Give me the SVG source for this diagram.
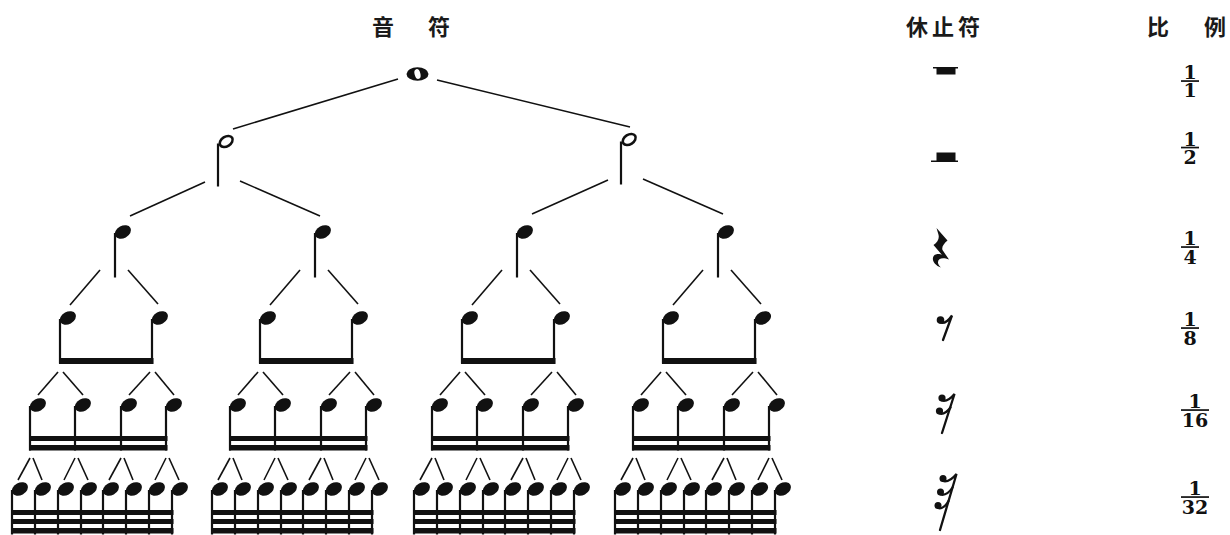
<svg xmlns="http://www.w3.org/2000/svg" width="1230" height="535" viewBox="0 0 1230 535">
<style>
.cjk{font-family:"Noto Sans CJK SC","Noto Sans",sans-serif;font-size:22px;font-weight:bold;fill:#1a1a1a}
.fr{font-family:"DejaVu Serif","Liberation Serif",serif;font-weight:bold;font-size:19px;fill:#111;text-anchor:middle}
.cn line{stroke:#111;stroke-width:1.6;stroke-linecap:butt}
.ink{fill:#111}
.rs{fill:none;stroke:#111;stroke-width:2.3;stroke-linecap:round}
</style>
<defs>
<g id="n" class="ink"><ellipse cx="0" cy="0" rx="8.6" ry="6.1" transform="translate(7.9,0) rotate(-28)"/><rect x="-1.1" y="1" width="2.2" height="44.5"/></g>
<g id="hn"><ellipse cx="0" cy="0" rx="7" ry="4.8" transform="translate(8.2,-0.5) rotate(-32)" fill="none" stroke="#111" stroke-width="2.6"/><rect x="-1.1" y="1.5" width="2.2" height="43" class="ink"/></g>
</defs>
<rect width="1230" height="535" fill="#fff"/>

<g id="headers">
<text class="cjk" text-anchor="middle" y="35"><tspan x="383">音</tspan><tspan x="439">符</tspan></text>
<text class="cjk" x="906" y="35" letter-spacing="4">休止符</text>
<text class="cjk" text-anchor="middle" y="35"><tspan x="1158">比</tspan><tspan x="1215">例</tspan></text>
</g>

<g id="connectors" class="cn">
<line x1="398" y1="79" x2="233" y2="129"/>
<line x1="437" y1="80" x2="630" y2="127"/>
<line x1="205" y1="182" x2="130" y2="216"/>
<line x1="240" y1="181" x2="320" y2="216"/>
<line x1="608" y1="180" x2="532" y2="214"/>
<line x1="643" y1="179" x2="723" y2="214"/>
<line x1="100" y1="270" x2="70" y2="305"/>
<line x1="128" y1="270" x2="158" y2="304"/>
<line x1="300" y1="270" x2="270" y2="305"/>
<line x1="328" y1="270" x2="358" y2="304"/>
<line x1="502" y1="270" x2="472" y2="305"/>
<line x1="530" y1="270" x2="560" y2="304"/>
<line x1="703" y1="270" x2="673" y2="305"/>
<line x1="731" y1="270" x2="761" y2="304"/>
<line x1="58" y1="372" x2="38" y2="395"/>
<line x1="63" y1="372" x2="83" y2="395"/>
<line x1="150" y1="372" x2="129" y2="395"/>
<line x1="155" y1="372" x2="174" y2="395"/>
<line x1="258" y1="372" x2="238" y2="395"/>
<line x1="263" y1="372" x2="283" y2="395"/>
<line x1="350" y1="372" x2="329" y2="395"/>
<line x1="355" y1="372" x2="374" y2="395"/>
<line x1="460" y1="372" x2="440" y2="395"/>
<line x1="465" y1="372" x2="485" y2="395"/>
<line x1="552" y1="372" x2="531" y2="395"/>
<line x1="557" y1="372" x2="576" y2="395"/>
<line x1="661" y1="372" x2="641" y2="395"/>
<line x1="666" y1="372" x2="686" y2="395"/>
<line x1="753" y1="372" x2="732" y2="395"/>
<line x1="758" y1="372" x2="777" y2="395"/>
<line x1="30" y1="458" x2="18" y2="480"/>
<line x1="33" y1="458" x2="42" y2="480"/>
<line x1="75" y1="458" x2="64" y2="480"/>
<line x1="78" y1="458" x2="88" y2="480"/>
<line x1="121" y1="458" x2="109" y2="480"/>
<line x1="124" y1="458" x2="133" y2="480"/>
<line x1="166" y1="458" x2="155" y2="480"/>
<line x1="169" y1="458" x2="179" y2="480"/>
<line x1="230" y1="458" x2="218" y2="480"/>
<line x1="233" y1="458" x2="242" y2="480"/>
<line x1="275" y1="458" x2="264" y2="480"/>
<line x1="278" y1="458" x2="288" y2="480"/>
<line x1="321" y1="458" x2="309" y2="480"/>
<line x1="324" y1="458" x2="333" y2="480"/>
<line x1="366" y1="458" x2="355" y2="480"/>
<line x1="369" y1="458" x2="379" y2="480"/>
<line x1="432" y1="458" x2="420" y2="480"/>
<line x1="435" y1="458" x2="444" y2="480"/>
<line x1="477" y1="458" x2="466" y2="480"/>
<line x1="480" y1="458" x2="490" y2="480"/>
<line x1="523" y1="458" x2="511" y2="480"/>
<line x1="526" y1="458" x2="535" y2="480"/>
<line x1="568" y1="458" x2="557" y2="480"/>
<line x1="571" y1="458" x2="581" y2="480"/>
<line x1="633" y1="458" x2="621" y2="480"/>
<line x1="636" y1="458" x2="645" y2="480"/>
<line x1="678" y1="458" x2="667" y2="480"/>
<line x1="681" y1="458" x2="691" y2="480"/>
<line x1="724" y1="458" x2="712" y2="480"/>
<line x1="727" y1="458" x2="736" y2="480"/>
<line x1="769" y1="458" x2="758" y2="480"/>
<line x1="772" y1="458" x2="782" y2="480"/>
</g>

<g id="whole"><ellipse cx="417.5" cy="74" rx="11" ry="6.8" class="ink"/><ellipse cx="417.5" cy="74" rx="2.9" ry="5" transform="rotate(-15 417.5 74)" fill="#fff"/></g>

<g id="half1"><use href="#hn" x="218" y="142"/></g>
<g id="half2"><use href="#hn" x="621" y="140"/></g>

<g id="q1"><use href="#n" x="115" y="232"/></g>
<g id="q2"><use href="#n" x="315" y="232"/></g>
<g id="q3"><use href="#n" x="517" y="232"/></g>
<g id="q4"><use href="#n" x="718" y="232"/></g>

<g id="e1"><use href="#n" x="60" y="318"/></g>
<g id="e2"><use href="#n" x="152" y="318"/></g>
<g id="e3"><use href="#n" x="260" y="318"/></g>
<g id="e4"><use href="#n" x="352" y="318"/></g>
<g id="e5"><use href="#n" x="462" y="318"/></g>
<g id="e6"><use href="#n" x="554" y="318"/></g>
<g id="e7"><use href="#n" x="663" y="318"/></g>
<g id="e8"><use href="#n" x="755" y="318"/></g>
<g id="beams8" class="ink">
<rect x="59" y="358" width="94.5" height="6"/>
<rect x="259" y="358" width="94.5" height="6"/>
<rect x="461" y="358" width="94.5" height="6"/>
<rect x="662" y="358" width="94.5" height="6"/>
</g>

<g id="s1"><use href="#n" x="30" y="405"/></g>
<g id="s2"><use href="#n" x="75" y="405"/></g>
<g id="s3"><use href="#n" x="121" y="405"/></g>
<g id="s4"><use href="#n" x="166" y="405"/></g>
<g id="s5"><use href="#n" x="230" y="405"/></g>
<g id="s6"><use href="#n" x="275" y="405"/></g>
<g id="s7"><use href="#n" x="321" y="405"/></g>
<g id="s8"><use href="#n" x="366" y="405"/></g>
<g id="s9"><use href="#n" x="432" y="405"/></g>
<g id="s10"><use href="#n" x="477" y="405"/></g>
<g id="s11"><use href="#n" x="523" y="405"/></g>
<g id="s12"><use href="#n" x="568" y="405"/></g>
<g id="s13"><use href="#n" x="633" y="405"/></g>
<g id="s14"><use href="#n" x="678" y="405"/></g>
<g id="s15"><use href="#n" x="724" y="405"/></g>
<g id="s16"><use href="#n" x="769" y="405"/></g>
<g id="beams16" class="ink">
<rect x="29" y="436" width="138.5" height="5"/><rect x="29" y="445" width="138.5" height="5.5"/>
<rect x="229" y="436" width="138.5" height="5"/><rect x="229" y="445" width="138.5" height="5.5"/>
<rect x="431" y="436" width="138.5" height="5"/><rect x="431" y="445" width="138.5" height="5.5"/>
<rect x="632" y="436" width="138.5" height="5"/><rect x="632" y="445" width="138.5" height="5.5"/>
</g>

<g id="t1"><use href="#n" x="12" y="489"/></g>
<g id="t2"><use href="#n" x="35" y="489"/></g>
<g id="t3"><use href="#n" x="58" y="489"/></g>
<g id="t4"><use href="#n" x="81" y="489"/></g>
<g id="t5"><use href="#n" x="103" y="489"/></g>
<g id="t6"><use href="#n" x="126" y="489"/></g>
<g id="t7"><use href="#n" x="149" y="489"/></g>
<g id="t8"><use href="#n" x="172" y="489"/></g>
<g id="t9"><use href="#n" x="212" y="489"/></g>
<g id="t10"><use href="#n" x="235" y="489"/></g>
<g id="t11"><use href="#n" x="258" y="489"/></g>
<g id="t12"><use href="#n" x="281" y="489"/></g>
<g id="t13"><use href="#n" x="303" y="489"/></g>
<g id="t14"><use href="#n" x="326" y="489"/></g>
<g id="t15"><use href="#n" x="349" y="489"/></g>
<g id="t16"><use href="#n" x="372" y="489"/></g>
<g id="t17"><use href="#n" x="414" y="489"/></g>
<g id="t18"><use href="#n" x="437" y="489"/></g>
<g id="t19"><use href="#n" x="460" y="489"/></g>
<g id="t20"><use href="#n" x="483" y="489"/></g>
<g id="t21"><use href="#n" x="505" y="489"/></g>
<g id="t22"><use href="#n" x="528" y="489"/></g>
<g id="t23"><use href="#n" x="551" y="489"/></g>
<g id="t24"><use href="#n" x="574" y="489"/></g>
<g id="t25"><use href="#n" x="615" y="489"/></g>
<g id="t26"><use href="#n" x="638" y="489"/></g>
<g id="t27"><use href="#n" x="661" y="489"/></g>
<g id="t28"><use href="#n" x="684" y="489"/></g>
<g id="t29"><use href="#n" x="706" y="489"/></g>
<g id="t30"><use href="#n" x="729" y="489"/></g>
<g id="t31"><use href="#n" x="752" y="489"/></g>
<g id="t32"><use href="#n" x="775" y="489"/></g>
<g id="beams32" class="ink">
<rect x="11" y="510" width="162.5" height="5"/><rect x="11" y="519" width="162.5" height="5"/><rect x="11" y="528" width="162.5" height="5.5"/>
<rect x="211" y="510" width="162.5" height="5"/><rect x="211" y="519" width="162.5" height="5"/><rect x="211" y="528" width="162.5" height="5.5"/>
<rect x="413" y="510" width="162.5" height="5"/><rect x="413" y="519" width="162.5" height="5"/><rect x="413" y="528" width="162.5" height="5.5"/>
<rect x="614" y="510" width="162.5" height="5"/><rect x="614" y="519" width="162.5" height="5"/><rect x="614" y="528" width="162.5" height="5.5"/>
</g>

<g id="rest1" class="ink"><rect x="933" y="67" width="25" height="1.5"/><rect x="936.5" y="67" width="19" height="7.5"/></g>
<g id="rest2" class="ink"><rect x="936.5" y="152.5" width="19" height="8.5"/><rect x="931" y="160.5" width="27" height="1.5"/></g>
<g id="rest4" class="ink"><path d="M936.5 228 L947.5 240.5 C943.5 244 941.5 247 942.5 250 L949 259.5 C943 257 937.5 258 938 263 C938.5 265 940 266.5 941 267.5 C934 265 931 259 934 255.5 C936 253.5 940 253.5 942 255 L933.5 245 C938 242 940 238 938 233 Z"/></g>
<g id="rest8"><circle cx="940.5" cy="320" r="3.8" class="ink"/><path class="rs" d="M940 322.5 Q946 324.5 952 315.5 L943 340"/></g>
<g id="rest16"><circle cx="942" cy="398" r="3.6" class="ink"/><circle cx="939.5" cy="411" r="3.6" class="ink"/><path class="rs" d="M942 400.5 Q948 402 954.5 394 L942 433"/><path class="rs" d="M939.5 413.5 Q945 415 950.5 407.5"/></g>
<g id="rest32"><circle cx="943" cy="478.5" r="3.5" class="ink"/><circle cx="940.5" cy="492" r="3.5" class="ink"/><circle cx="938" cy="505.5" r="3.5" class="ink"/><path class="rs" d="M943 481 Q949.5 482.5 956.5 474 L940 530"/><path class="rs" d="M940.5 494.5 Q947 496 952.5 487.5"/><path class="rs" d="M938 508 Q944 509.5 948.5 501"/></g>

<g id="frac1"><text class="fr" x="1190" y="79">1</text><rect class="ink" x="1181" y="80.2" width="18" height="1.7"/><text class="fr" x="1190" y="97">1</text></g>
<g id="frac2"><text class="fr" x="1190" y="145.5">1</text><rect class="ink" x="1181" y="146.7" width="18" height="1.7"/><text class="fr" x="1190" y="164">2</text></g>
<g id="frac4"><text class="fr" x="1190" y="245">1</text><rect class="ink" x="1181" y="246.2" width="18" height="1.7"/><text class="fr" x="1190" y="263.5">4</text></g>
<g id="frac8"><text class="fr" x="1190" y="326">1</text><rect class="ink" x="1181" y="327.2" width="18" height="1.7"/><text class="fr" x="1190" y="344.5">8</text></g>
<g id="frac16"><text class="fr" x="1195" y="408">1</text><rect class="ink" x="1181" y="409.2" width="28" height="1.7"/><text class="fr" x="1195" y="426.5">16</text></g>
<g id="frac32"><text class="fr" x="1195" y="495">1</text><rect class="ink" x="1181" y="496.2" width="28" height="1.7"/><text class="fr" x="1195" y="513.5">32</text></g>
</svg>
